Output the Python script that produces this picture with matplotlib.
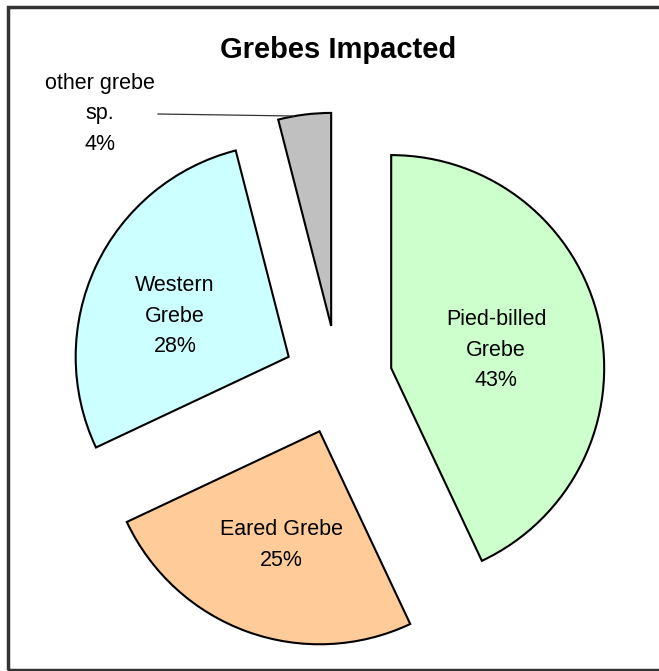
import matplotlib.pyplot as plt
from matplotlib.patches import Rectangle

plt.rcParams['font.family'] = ['Liberation Sans', 'DejaVu Sans']

# data
species = ['Pied-billed\nGrebe', 'Eared Grebe', 'Western\nGrebe', 'other grebe\nsp.']
shares = [43, 25, 28, 4]
colors = ['#CCFFCC', '#FFCC99', '#CCFFFF', '#C0C0C0']

W, H = 659, 671
fig = plt.figure(figsize=(W / 100, H / 100), dpi=100)
ax = fig.add_axes([0, 0, 1, 1])

R = 213
cx, cy = 338, H - 380
# pie's explode offset is in data units here (radius is not 1)
ax.pie(shares, colors=colors, startangle=90, counterclock=False,
       explode=[54.5] * len(shares), radius=R, center=(cx, cy),
       wedgeprops=dict(edgecolor='black', linewidth=1.5))
ax.set_xlim(0, W)
ax.set_ylim(0, H)
ax.set_aspect('equal')
ax.axis('off')

# labels (pixel positions from the top-left)
label_pos = [(496, 350), (281, 545), (175, 316), (100, 114)]
for name, val, (x, y) in zip(species, shares, label_pos):
    ax.text(x, H - y, f'{name}\n{val}%', ha='center', va='center',
            fontsize=15.5, linespacing=1.6)

# leader line for the small slice
ax.plot([158, 294], [H - 114, H - 116], color='#333333', lw=0.9)

fig.text(338 / W, 1 - 50 / H, 'Grebes Impacted', ha='center', va='center',
         fontsize=21, fontweight='bold')

# outer frame
fig.patches.append(Rectangle((8 / W, 1 - 670 / H), 1.0, (670 - 7) / H,
                             transform=fig.transFigure, fill=False,
                             edgecolor='#333333', lw=2.5))

fig.savefig('out.png', dpi=100, facecolor='white')
